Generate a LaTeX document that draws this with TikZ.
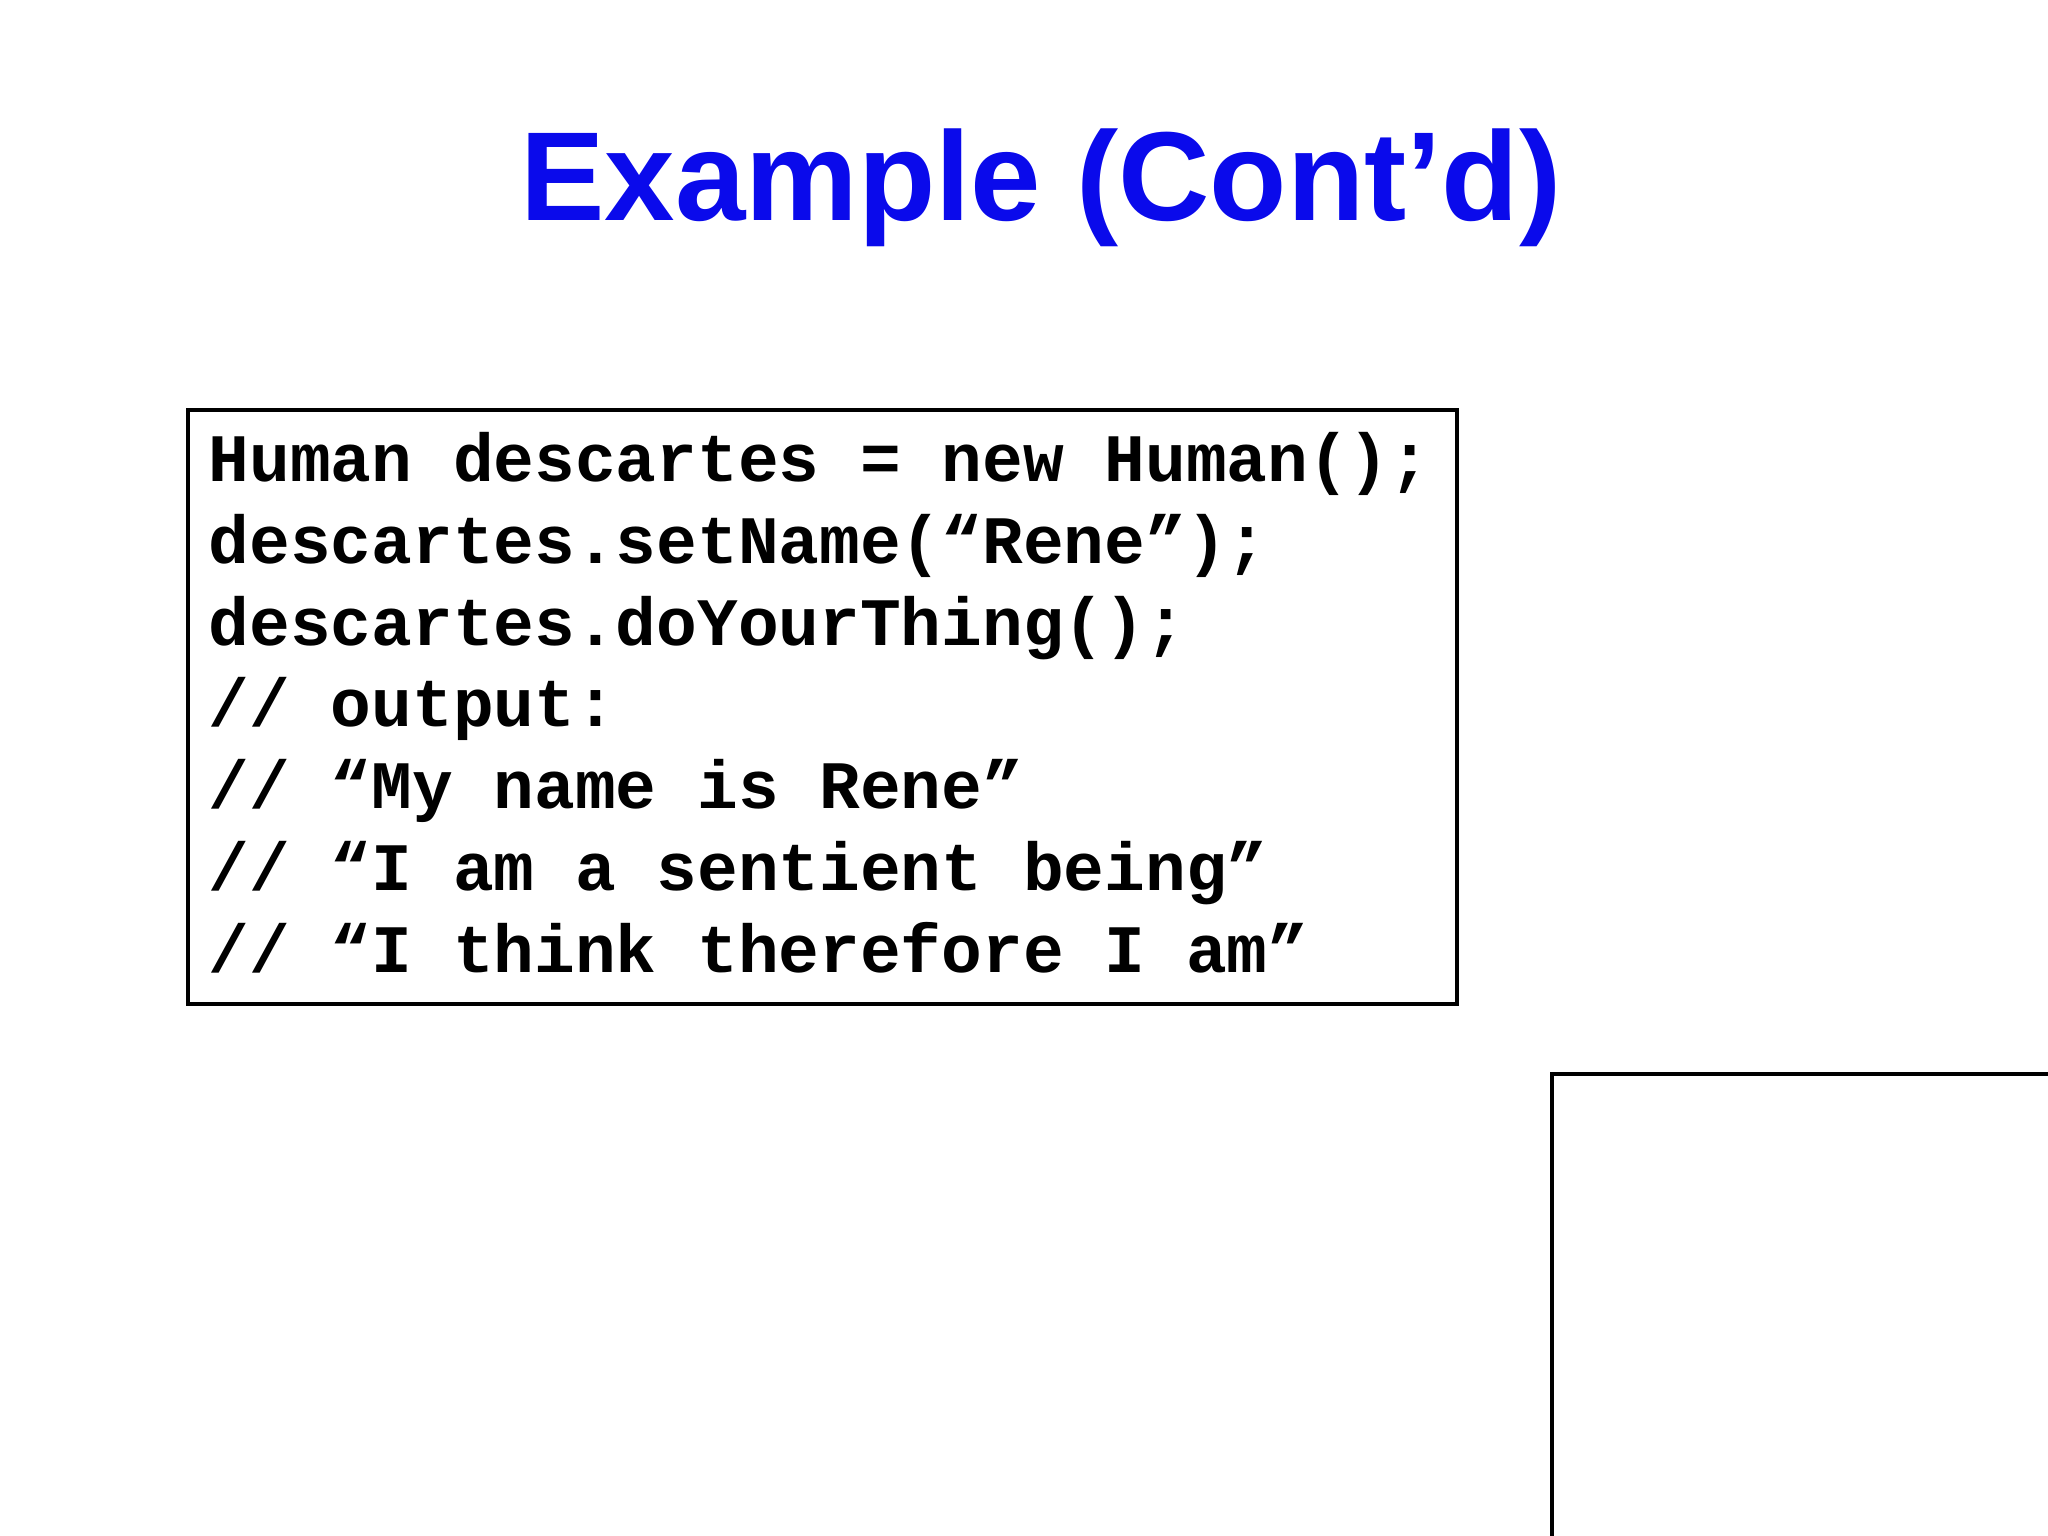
\documentclass[tikz,border=0pt]{standalone}
\usepackage{fontspec}
\setmainfont{Liberation Sans}
\newfontfamily\codefont{Liberation Mono}
\definecolor{titleblue}{RGB}{10,10,235}
\begin{document}
\begin{tikzpicture}[x=0.01cm,y=-0.01cm,
  codeline/.style={anchor=base west,inner sep=0pt,font=\codefont\bfseries\fontsize{19.3pt}{23pt}\selectfont}]
\useasboundingbox (0,0) rectangle (2048,1536);
\node[font=\bfseries\fontsize{36pt}{40pt}\selectfont,text=titleblue,anchor=base] (title) at (1041,220) {Example (Cont’d)};
\node[draw,line width=1.2pt,inner sep=0pt,minimum width=12.69cm,minimum height=5.94cm] (box) at (822.5,707) {};
\node[codeline] (l1) at (208,481) {Human descartes = new Human();};
\node[codeline] (l2) at (208,563) {descartes.setName(“Rene”);};
\node[codeline] (l3) at (208,645) {descartes.doYourThing();};
\node[codeline] (l4) at (208,726) {// output:};
\node[codeline] (l5) at (208,808) {// “My name is Rene”};
\node[codeline] (l6) at (208,890) {// “I am a sentient being”};
\node[codeline] (l7) at (208,972) {// “I think therefore I am”};
\begin{scope}
\clip (0,0) rectangle (2048,1536);
\draw[line width=1.2pt] (1552,1074) rectangle (2060,1550);
\end{scope}
\end{tikzpicture}
\end{document}
